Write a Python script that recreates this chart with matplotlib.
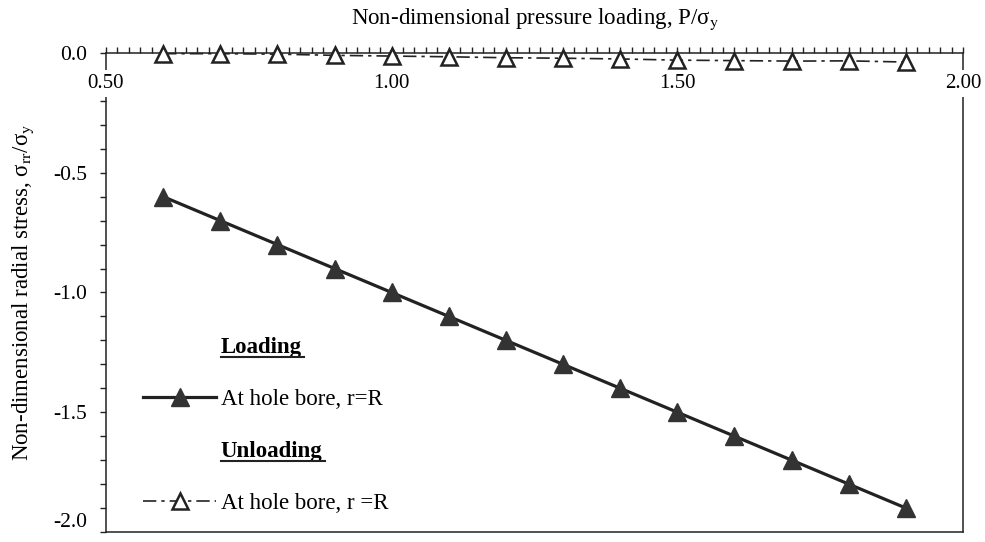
import matplotlib
matplotlib.use("Agg")
import matplotlib.pyplot as plt
from matplotlib.lines import Line2D
from matplotlib.ticker import MultipleLocator, FormatStrFormatter
from matplotlib.transforms import IdentityTransform

# pressure P/sigma_y
pressure = [0.6, 0.7, 0.8, 0.9, 1.0, 1.1, 1.2, 1.3, 1.4, 1.5, 1.6, 1.7, 1.8, 1.9]
# radial stress at the bore while loading
loading = [-0.60, -0.70, -0.80, -0.90, -1.00, -1.10, -1.20, -1.30, -1.40,
           -1.50, -1.60, -1.70, -1.80, -1.90]
# residual radial stress at the bore after unloading
unloading = [-0.003, -0.003, -0.005, -0.010, -0.013, -0.016, -0.020, -0.022,
             -0.025, -0.030, -0.032, -0.034, -0.033, -0.038]

x_ticks = [0.5, 1.0, 1.5, 2.0]
y_ticks = [0.0, -0.5, -1.0, -1.5, -2.0]

plt.rcParams["font.family"] = "Liberation Serif"
plt.rcParams["mathtext.fontset"] = "stix"
plt.rcParams["axes.unicode_minus"] = False

ink = "#222222"
fs = 16.5

fig = plt.figure(figsize=(9.85, 5.42), dpi=100)
ax = fig.add_axes([0.1076, 0.0185, 0.870, 0.8838])

ln_load, = ax.plot(pressure, loading, color=ink, lw=2.3, marker="^", ms=13,
                   mfc="#333333", mec="#333333", zorder=4)
ln_unload, = ax.plot(pressure, unloading, color=ink, lw=1.2, ls=(0, (8, 3, 2, 3)),
                     marker="^", ms=12, mfc="white", mec=ink, mew=1.8,
                     clip_on=False, zorder=6)

ax.set_xlim(0.5, 2.0)
ax.set_ylim(-2.0, 0.0)

# x axis sits on the zero line at the top, frame line at the bottom
ax.spines["bottom"].set_position(("axes", 1.0))
ax.spines["top"].set_position(("axes", 0.0))
for s in ax.spines.values():
    s.set_linewidth(1.1)
    s.set_color(ink)

ax.set_xticks(x_ticks)
ax.xaxis.set_minor_locator(MultipleLocator(0.02))
ax.xaxis.set_major_formatter(FormatStrFormatter("%.2f"))
ax.tick_params(axis="x", which="both", direction="in", length=4, width=1,
               top=False, bottom=True, pad=15, labelsize=15, color=ink)

ax.set_yticks(y_ticks)
ax.yaxis.set_minor_locator(MultipleLocator(0.1))
ax.yaxis.set_major_formatter(FormatStrFormatter("%.1f"))
ax.tick_params(axis="y", which="both", direction="out", length=4, width=1,
               pad=9.5, labelsize=15.5, color=ink)

for lbl in ax.get_xticklabels():
    lbl.set_bbox(dict(facecolor="white", edgecolor="none", pad=3))
ax.xaxis.set_zorder(5)

ax.set_title("Non-dimensional pressure loading, P/σ$_{\\rm y}$", fontsize=fs, pad=21)
ax.set_ylabel("Non-dimensional radial stress, σ$_{\\rm rr}$/σ$_{\\rm y}$", fontsize=fs)
ax.yaxis.set_label_coords(-0.082, 0.5)

blank = Line2D([], [], linestyle="none")
leg_kw = dict(loc="upper left", frameon=False, handlelength=3.2, handletextpad=0.2,
              labelspacing=1.36, borderpad=0, borderaxespad=0, fontsize=fs,
              numpoints=1)
leg1 = ax.legend([blank, ln_load], ["Loading", "At hole bore, r=R"],
                 bbox_to_anchor=(0.043, 0.4075), **leg_kw)
ax.add_artist(leg1)
leg2 = ax.legend([blank, ln_unload], ["Unloading", "At hole bore, r =R"],
                 bbox_to_anchor=(0.043, 0.191), **leg_kw)
for leg in (leg1, leg2):
    leg.get_texts()[0].set_fontweight("bold")

fig.canvas.draw()
r = fig.canvas.get_renderer()

# y tick labels: centred, but the lowest one sits just above its tick
for lbl in ax.get_yticklabels():
    if lbl.get_text() == "-2.0":
        lbl.set_verticalalignment("bottom")
    else:
        lbl.set_verticalalignment("center_baseline")

# underline the two headings
for leg in (leg1, leg2):
    bb = leg.get_texts()[0].get_window_extent(r)
    fig.add_artist(Line2D([bb.x0, bb.x1 + 2], [bb.y0 + 1, bb.y0 + 1],
                          transform=IdentityTransform(), color=ink, lw=1.5))

fig.savefig("out.png", dpi=100)
